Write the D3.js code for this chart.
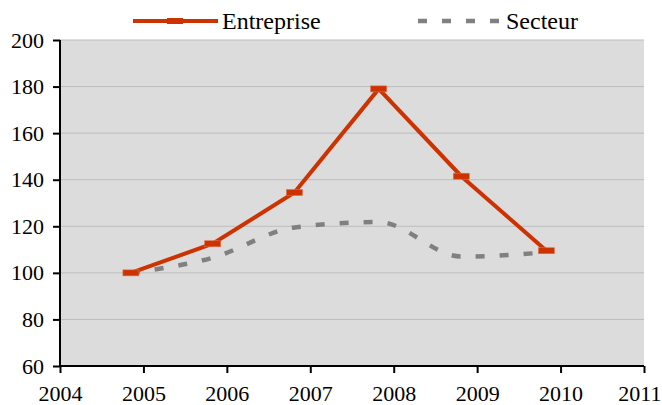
<!DOCTYPE html>
<html>
<head>
<meta charset="utf-8">
<script src="https://cdn.jsdelivr.net/npm/d3@7"></script>
<style>
  html, body { margin: 0; padding: 0; background: #ffffff; }
  svg { display: block; }
</style>
</head>
<body>
<svg id="chart" width="662" height="405"></svg>
<script>
// ---- Data ----
const tickYears = [2004, 2005, 2006, 2007, 2008, 2009, 2010, 2011];
const yTicks = [60, 80, 100, 120, 140, 160, 180, 200];
const pointX = [2004.85, 2005.83, 2006.81, 2007.82, 2008.81, 2009.83];
const entreprise = [100, 112.5, 134.5, 179, 141.5, 109.5];
const secteur = [100, 106.5, 119.5, 121.8, 107, 108.8];
const seriesNames = ["Entreprise", "Secteur"];

// ---- Layout ----
const FONT = "Liberation Serif";
const svg = d3.select("#chart");
const pLeft = 60, pRight = 644, pTop = 40, pBottom = 366;
const red = "#cc3300", grey = "#808080";

const x = d3.scaleLinear().domain([2004, 2011]).range([pLeft, pRight]);
const y = d3.scaleLinear().domain([60, 200]).range([pBottom, pTop]);

// plot background
svg.append("rect")
  .attr("x", pLeft).attr("y", pTop)
  .attr("width", pRight - pLeft).attr("height", pBottom - pTop)
  .attr("fill", "#dcdcdc");

// gridlines
svg.append("g")
  .selectAll("line")
  .data(yTicks.filter(v => v > 60))
  .join("line")
  .attr("x1", pLeft).attr("x2", pRight)
  .attr("y1", d => y(d)).attr("y2", d => y(d))
  .attr("stroke", "#bdbdbd").attr("stroke-width", 1);

// axes
const xAxis = svg.append("g")
  .attr("transform", `translate(0,${pBottom})`)
  .call(d3.axisBottom(x).tickValues(tickYears).tickFormat(d3.format("d"))
        .tickSize(7).tickPadding(12));
const yAxis = svg.append("g")
  .attr("transform", `translate(${pLeft},0)`)
  .call(d3.axisLeft(y).tickValues(yTicks).tickSize(7).tickPadding(9));

[xAxis, yAxis].forEach(g => {
  g.attr("font-family", null).attr("font-size", null);
  g.select(".domain").attr("stroke", "#000").attr("stroke-width", 2);
  g.selectAll(".tick line").attr("stroke", "#000").attr("stroke-width", 2);
  g.selectAll(".tick text")
    .style("font-family", FONT)
    .style("font-size", "22px").attr("fill", "#000");
});
xAxis.select(".domain").attr("d", `M${pLeft},0H${pRight}`);
yAxis.select(".domain").attr("d", `M0,${pTop}V${pBottom}`);
// keep the last year label inside the window
xAxis.selectAll(".tick text").filter(d => d === 2011)
  .attr("text-anchor", "end").attr("x", 661 - pRight);

// series
const ptsS = pointX.map((px, i) => [px, secteur[i]]);
const ptsE = pointX.map((px, i) => [px, entreprise[i]]);

svg.append("path")
  .attr("d", d3.line().x(d => x(d[0])).y(d => y(d[1]))
    .curve(d3.curveMonotoneX)(ptsS))
  .attr("fill", "none").attr("stroke", grey)
  .attr("stroke-width", 4.5).attr("stroke-dasharray", "9,15");

svg.append("path")
  .attr("d", d3.line().x(d => x(d[0])).y(d => y(d[1]))(ptsE))
  .attr("fill", "none").attr("stroke", red)
  .attr("stroke-width", 4).attr("stroke-linejoin", "miter");

svg.append("g").selectAll("rect")
  .data(ptsE)
  .join("rect")
  .attr("x", d => x(d[0]) - 8).attr("y", d => y(d[1]) - 3)
  .attr("width", 16).attr("height", 6)
  .attr("fill", red).attr("stroke", "#e2704a").attr("stroke-width", 0.6);

// legend
const legY = 21;
const leg = svg.append("g");
leg.append("line").attr("x1", 133).attr("x2", 218).attr("y1", legY).attr("y2", legY)
  .attr("stroke", red).attr("stroke-width", 4);
leg.append("rect").attr("x", 167).attr("y", legY - 3).attr("width", 16).attr("height", 6)
  .attr("fill", red);
leg.append("text").attr("x", 222).attr("y", legY).attr("dy", "0.33em")
  .style("font-family", FONT).style("font-size", "24px").attr("fill", "#000")
  .text(seriesNames[0]);
leg.append("line").attr("x1", 418).attr("x2", 500).attr("y1", legY).attr("y2", legY)
  .attr("stroke", grey).attr("stroke-width", 4.5).attr("stroke-dasharray", "9,15");
leg.append("text").attr("x", 506).attr("y", legY).attr("dy", "0.33em")
  .style("font-family", FONT).style("font-size", "24px").attr("fill", "#000")
  .text(seriesNames[1]);
</script>
</body>
</html>
